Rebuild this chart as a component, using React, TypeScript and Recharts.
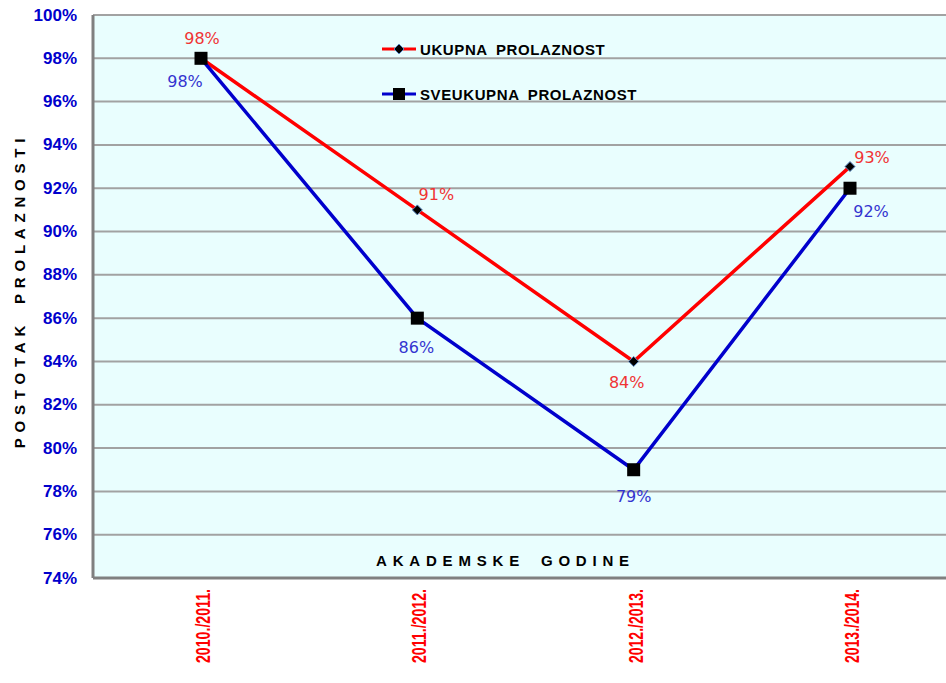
import React from 'react';
import {
  LineChart,
  Line,
  XAxis,
  YAxis,
  CartesianGrid,
  LabelList,
  Label,
} from 'recharts';

const years = ['2010./2011.', '2011./2012.', '2012./2013.', '2013./2014.'];
const ukupna = [98, 91, 84, 93];
const sveukupna = [98, 86, 79, 92];
const yTicks = [74, 76, 78, 80, 82, 84, 86, 88, 90, 92, 94, 96, 98, 100];

// label nudges per point (dx, dy)
const redNudge = [
  [1, -20],
  [19, -15],
  [-7, 21],
  [22, -9],
];
const blueNudge = [
  [-16, 23],
  [-1, 29],
  [0, 27],
  [21, 23],
];

const chartData = years.map((year, i) => ({
  year,
  ukupna: ukupna[i],
  sveukupna: sveukupna[i],
}));

const RED = '#FF0000';
const BLUE = '#0000CC';
const BOLD = 'Arial, "Liberation Sans", sans-serif';
const LABEL_FONT = '"DejaVu Sans", Verdana, sans-serif';

function Diamond(props: any) {
  const { cx, cy } = props;
  if (cx == null || cy == null) return null;
  const r = 5;
  return (
    <polygon
      points={`${cx},${cy - r} ${cx + r},${cy} ${cx},${cy + r} ${cx - r},${cy}`}
      fill="#000"
      stroke="#5b8ac4"
      strokeWidth={1}
    />
  );
}

function Square(props: any) {
  const { cx, cy } = props;
  if (cx == null || cy == null) return null;
  return <rect x={cx - 6.5} y={cy - 6.5} width={13} height={13} fill="#000" />;
}

function makeLabel(nudge: number[][], color: string) {
  return (props: any) => {
    const { x, y, value, index } = props;
    const [dx, dy] = nudge[index] || [0, 0];
    return (
      <text
        x={x + dx}
        y={y + dy}
        textAnchor="middle"
        dominantBaseline="central"
        fill={color}
        fontSize={16}
        fontFamily={LABEL_FONT}
      >
        {value}%
      </text>
    );
  };
}

function YTick(props: any) {
  const { y, payload } = props;
  return (
    <text
      x={77}
      y={y}
      textAnchor="end"
      dominantBaseline="central"
      fill={BLUE}
      fontSize={17}
      fontWeight="bold"
      fontFamily={BOLD}
    >
      {payload.value}%
    </text>
  );
}

function XTick(props: any) {
  const { x, payload } = props;
  const top = 589;
  return (
    <text
      x={x + 2}
      y={top}
      transform={`rotate(-90, ${x + 2}, ${top})`}
      textAnchor="end"
      dominantBaseline="central"
      fill={RED}
      fontSize={20}
      fontWeight="bold"
      fontFamily={BOLD}
      textLength={74}
      lengthAdjust="spacingAndGlyphs"
    >
      {payload.value}
    </text>
  );
}

function LegendBox() {
  const rows = [
    { name: 'UKUPNA PROLAZNOST', color: RED, square: false, y: 13 },
    { name: 'SVEUKUPNA PROLAZNOST', color: BLUE, square: true, y: 58 },
  ];
  return (
    <svg width={300} height={80}>
      {rows.map((r) => (
        <g key={r.name}>
          <line x1={4} x2={38} y1={r.y} y2={r.y} stroke={r.color} strokeWidth={3} />
          {r.square ? (
            <rect x={15} y={r.y - 6} width={12} height={12} fill="#000" />
          ) : (
            <polygon
              points={`21,${r.y - 5} 26,${r.y} 21,${r.y + 5} 16,${r.y}`}
              fill="#000"
              stroke="#5b8ac4"
              strokeWidth={1}
            />
          )}
          <text
            x={42}
            y={r.y}
            dominantBaseline="central"
            fontSize={15}
            fontWeight="bold"
            fontFamily={BOLD}
            letterSpacing={0.6}
            wordSpacing={4}
            fill="#000"
          >
            {r.name}
          </text>
        </g>
      ))}
    </svg>
  );
}

export default function App() {
  return (
    <div
      style={{
        position: 'fixed',
        left: 0,
        top: 0,
        width: 946,
        height: 683,
        overflow: 'hidden',
        background: '#fff',
      }}
    >
      <LineChart
        width={958}
        height={698}
        data={chartData}
        margin={{ top: 15, right: 0, left: 0, bottom: 0 }}
      >
        <CartesianGrid
          vertical={false}
          fill="#E9FEFE"
          stroke="#A2A2A2"
          strokeWidth={2}
        />
        <XAxis
          dataKey="year"
          height={120}
          padding={{ left: 108, right: 108 }}
          tick={<XTick />}
          tickLine={false}
          axisLine={{ stroke: '#808080', strokeWidth: 3 }}
          interval={0}
        >
          <Label
            content={(p: any) => {
              const vb = p.viewBox;
              return (
                <text
                  x={vb.x + vb.width / 2 - 20}
                  y={vb.y - 18}
                  textAnchor="middle"
                  dominantBaseline="central"
                  fontSize={15}
                  fontWeight="bold"
                  fontFamily={BOLD}
                  letterSpacing={5.8}
                  wordSpacing={6}
                  fill="#000"
                >
                  AKADEMSKE GODINE
                </text>
              );
            }}
          />
        </XAxis>
        <YAxis
          width={93}
          domain={[74, 100]}
          ticks={yTicks}
          interval={0}
          tick={<YTick />}
          tickLine={false}
          axisLine={{ stroke: '#808080', strokeWidth: 3 }}
        >
          <Label
            content={(p: any) => {
              const vb = p.viewBox;
              const cx = 19;
              const cy = vb.y + vb.height / 2 - 6;
              return (
                <text
                  x={cx}
                  y={cy}
                  transform={`rotate(-90, ${cx}, ${cy})`}
                  textAnchor="middle"
                  dominantBaseline="central"
                  fontSize={15}
                  fontWeight="bold"
                  fontFamily={BOLD}
                  letterSpacing={5.8}
                  wordSpacing={6}
                  fill="#000"
                >
                  POSTOTAK PROLAZNOSTI
                </text>
              );
            }}
          />
        </YAxis>
        <Line
          dataKey="ukupna"
          name="UKUPNA PROLAZNOST"
          stroke={RED}
          strokeWidth={3.5}
          dot={<Diamond />}
          activeDot={false}
          isAnimationActive={false}
        >
          <LabelList dataKey="ukupna" content={makeLabel(redNudge, '#F03434')} />
        </Line>
        <Line
          dataKey="sveukupna"
          name="SVEUKUPNA PROLAZNOST"
          stroke={BLUE}
          strokeWidth={3.5}
          dot={<Square />}
          activeDot={false}
          isAnimationActive={false}
        >
          <LabelList dataKey="sveukupna" content={makeLabel(blueNudge, '#3434D0')} />
        </Line>
      </LineChart>
      <div style={{ position: 'absolute', left: 378, top: 36 }}>
        <LegendBox />
      </div>
    </div>
  );
}
